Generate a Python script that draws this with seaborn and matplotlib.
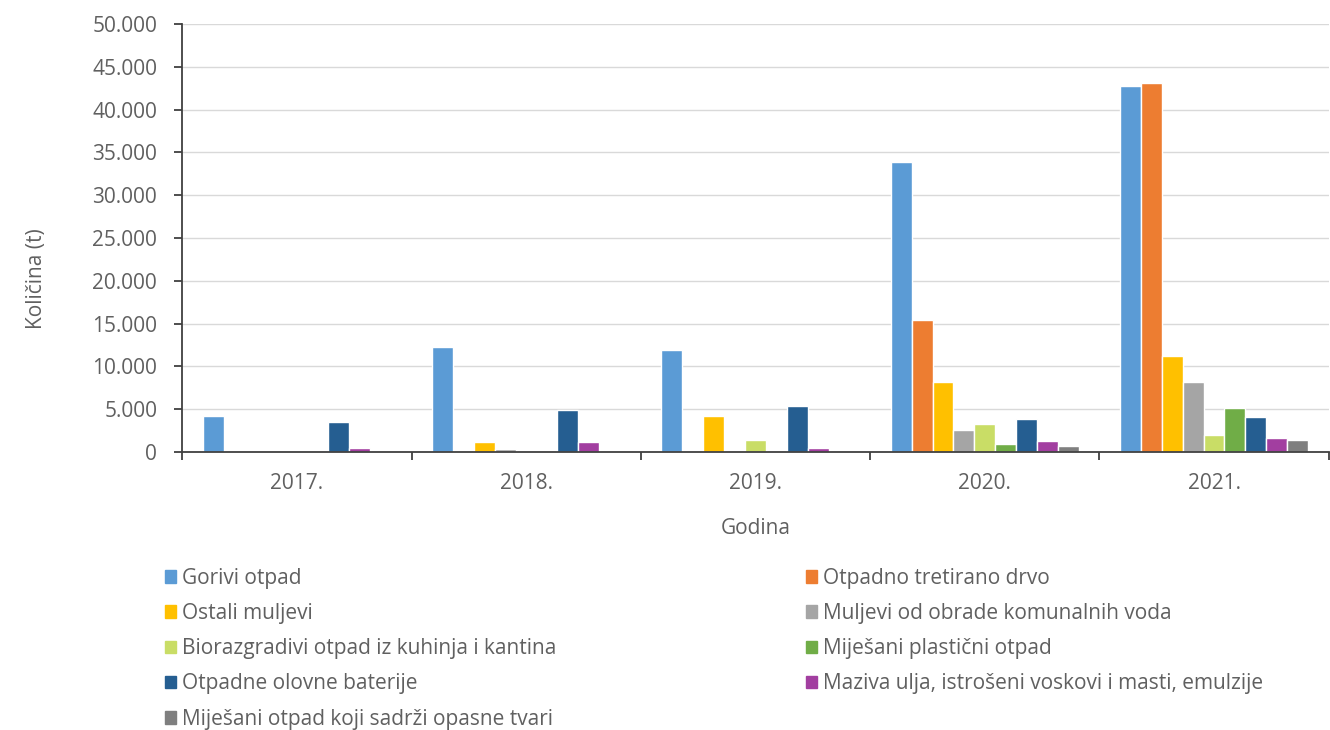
import matplotlib
matplotlib.use('Agg')
import matplotlib.pyplot as plt
import seaborn as sns
import pandas as pd
from matplotlib.ticker import FuncFormatter, FixedLocator

years = ['2017.', '2018.', '2019.', '2020.', '2021.']
categories = ['Gorivi otpad',
              'Otpadno tretirano drvo',
              'Ostali muljevi',
              'Muljevi od obrade komunalnih voda',
              'Biorazgradivi otpad iz kuhinja i kantina',
              'Miješani plastični otpad',
              'Otpadne olovne baterije',
              'Maziva ulja, istrošeni voskovi i masti, emulzije',
              'Miješani otpad koji sadrži opasne tvari']

gorivi = [4200, 12300, 11900, 33900, 42800]
drvo = [0, 0, 0, 15400, 43100]
ostali_muljevi = [0, 1100, 4200, 8200, 11200]
komunalni = [0, 300, 0, 2600, 8200]
biorazgradivi = [0, 0, 1400, 3300, 2000]
plasticni = [0, 0, 0, 900, 5100]
baterije = [3500, 4900, 5400, 3900, 4100]
maziva = [400, 1200, 400, 1300, 1600]
opasni = [0, 0, 0, 700, 1400]

colors = ['#5B9BD5', '#ED7D31', '#FFC000', '#A5A5A5', '#C9DD66',
          '#70AD47', '#255E91', '#A23EA0', '#7F7F7F']

series = [gorivi, drvo, ostali_muljevi, komunalni, biorazgradivi,
          plasticni, baterije, maziva, opasni]
rows = []
for cat, vals in zip(categories, series):
    for y, v in zip(years, vals):
        rows.append({'Godina': y, 'Kategorija': cat, 'Kolicina': v})
df = pd.DataFrame(rows)

sns.set_style('white')
plt.rcParams['font.family'] = ['Open Sans', 'DejaVu Sans']
text_col = '#606060'
fs = 15

fig = plt.figure(figsize=(13.3, 7.3), dpi=100)
ax = fig.add_axes([0.137, 0.381, 0.862, 0.586])

sns.barplot(data=df, x='Godina', y='Kolicina', hue='Kategorija',
            hue_order=categories, palette=colors, width=0.82,
            saturation=1, errorbar=None, legend=False, ax=ax)

ax.set_ylim(0, 50000)
ax.set_xlim(-0.5, 4.5)
ax.yaxis.set_major_locator(FixedLocator(range(0, 50001, 5000)))
ax.yaxis.set_major_formatter(FuncFormatter(lambda v, p: f'{int(v):,}'.replace(',', '.')))
ax.grid(axis='y', color='#d9d9d9', linewidth=1)
ax.set_axisbelow(True)

for s in ['top', 'right']:
    ax.spines[s].set_visible(False)
for s in ['left', 'bottom']:
    ax.spines[s].set_color('#404040')
    ax.spines[s].set_linewidth(1.3)

ax.tick_params(axis='y', length=6, width=1.3, color='#404040', labelsize=fs,
               labelcolor=text_col, pad=12, left=True)
ax.tick_params(axis='x', which='major', length=0, labelsize=fs,
               labelcolor=text_col, pad=15)
ax.set_xticks([-0.5, 0.5, 1.5, 2.5, 3.5, 4.5], minor=True)
ax.tick_params(axis='x', which='minor', length=6, width=1.3, color='#404040',
               bottom=True)

ax.set_xlabel('Godina', fontsize=fs, color=text_col)
ax.xaxis.set_label_coords(0.5, -0.155)
ax.set_ylabel('Količina (t)', fontsize=fs, color=text_col)
ax.yaxis.set_label_coords(-0.118, 0.405)

handles = [plt.Rectangle((0, 0), 1, 1, color=c) for c in colors]
left_idx = [0, 2, 4, 6, 8]
right_idx = [1, 3, 5, 7]
leg_kw = dict(frameon=False, fontsize=fs, handlelength=0.55, handleheight=0.55,
              handletextpad=0.25, labelspacing=0.68, labelcolor=text_col,
              borderaxespad=0, borderpad=0)
leg1 = fig.legend([handles[i] for i in left_idx], [categories[i] for i in left_idx],
                  loc='upper left', bbox_to_anchor=(0.124, 0.222), **leg_kw)
leg2 = fig.legend([handles[i] for i in right_idx], [categories[i] for i in right_idx],
                  loc='upper left', bbox_to_anchor=(0.606, 0.222), **leg_kw)

fig.savefig('out.png', dpi=100)
